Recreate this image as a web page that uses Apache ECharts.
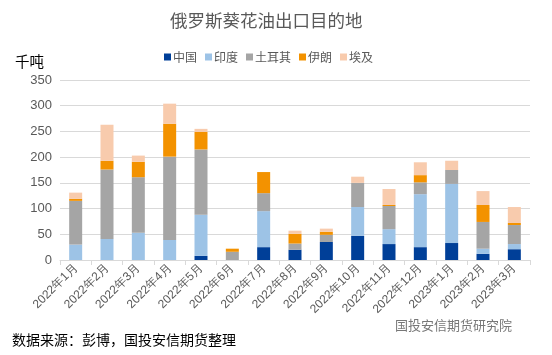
<!DOCTYPE html>
<html><head><meta charset="utf-8">
<script src="https://cdn.jsdelivr.net/npm/echarts@6/dist/echarts.min.js"></script>
<style>html,body{margin:0;padding:0;background:#fff}#c{width:552px;height:355px}</style>
</head><body><div id="c"></div>
<script>
const categories = ['2022年1月','2022年2月','2022年3月','2022年4月','2022年5月','2022年6月','2022年7月','2022年8月','2022年9月','2022年10月','2022年11月','2022年12月','2023年1月','2023年2月','2023年3月'];
const china  = [0, 0, 0, 0, 8, 0, 25, 20, 35, 47, 31, 25, 33, 12, 21];
const india  = [30, 41, 53, 39, 80, 0, 70, 0, 0, 56, 29, 103, 115, 10, 10];
const turkey = [85, 135, 108, 162, 127, 16, 35, 12, 14, 47, 45, 23, 27, 52, 37];
const iran   = [4, 17, 30, 64, 34, 6, 41, 19, 6, 0, 2, 14, 0, 33, 4];
const egypt  = [12, 70, 12, 39, 6, 0, 0, 6, 6, 12, 31, 25, 18, 27, 31];
const yTicks = [0, 50, 100, 150, 200, 250, 300, 350];

const names = ['中国','印度','土耳其','伊朗','埃及'];
const colors = ['#003F98','#9DC3E6','#A5A5A5','#F39200','#F8CBAD'];
const datas = [china, india, turkey, iran, egypt];

const chart = echarts.init(document.getElementById('c'));
chart.setOption({
  animation: false,
  title: {text: '俄罗斯葵花油出口目的地', left: 165, top: 7,
    textStyle: {fontSize: 17.5, fontWeight: 'normal', color: '#595959', fontFamily: 'Noto Sans CJK SC'}},
  legend: {top: 46, left: 159, itemWidth: 7, itemHeight: 7, itemGap: 8, icon: 'rect',
    textStyle: {fontSize: 12, color: '#595959', fontFamily: 'Noto Sans CJK SC', padding: [0,0,0,-3]}},
  graphic: [
    {type: 'text', left: 15, top: 54, style: {text: '千吨', fontSize: 14.5, fill: '#000', fontFamily: 'Noto Sans CJK SC'}},
    {type: 'text', left: 12, top: 333, style: {text: '数据来源：彭博，国投安信期货整理', fontSize: 14, fill: '#000', fontFamily: 'Noto Sans CJK SC'}},
    {type: 'text', left: 395, top: 319, style: {text: '国投安信期货研究院', fontSize: 13, fill: '#777', fontFamily: 'Noto Sans CJK SC'}}
  ],
  grid: {left: 60, right: 22, top: 80, bottom: 95},
  xAxis: {type: 'category', data: categories,
    axisLine: {lineStyle: {color: '#D9D9D9'}},
    axisTick: {show: true, lineStyle: {color: '#D9D9D9'}},
    axisLabel: {rotate: 45, fontSize: 12, color: '#595959', interval: 0, margin: 6, fontFamily: 'Liberation Sans'}},
  yAxis: {type: 'value', min: yTicks[0], max: yTicks[yTicks.length-1], interval: 50,
    axisLine: {show: false}, axisTick: {show: false},
    splitLine: {lineStyle: {color: '#D9D9D9', width: 1}},
    axisLabel: {fontSize: 13, color: '#595959', margin: 8, fontFamily: 'Liberation Sans'}},
  series: names.map((n, i) => ({
    name: n, type: 'bar', stack: 'total', barWidth: 13,
    itemStyle: {color: colors[i]}, data: datas[i]
  }))
});
</script></body></html>
